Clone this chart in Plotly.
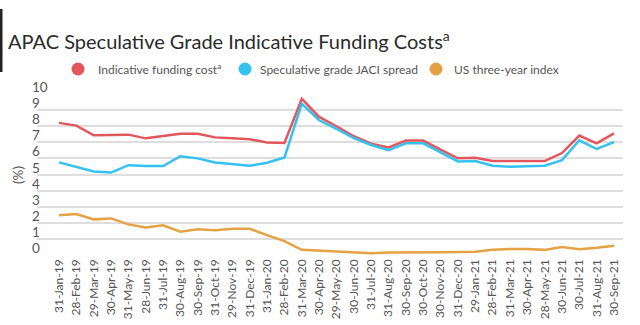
import plotly.graph_objects as go

# Month-end observation dates
dates = [
    "31-Jan-19", "28-Feb-19", "29-Mar-19", "30-Apr-19", "31-May-19", "28-Jun-19",
    "31-Jul-19", "30-Aug-19", "30-Sep-19", "31-Oct-19", "29-Nov-19", "31-Dec-19",
    "31-Jan-20", "28-Feb-20", "31-Mar-20", "30-Apr-20", "29-May-20", "30-Jun-20",
    "31-Jul-20", "31-Aug-20", "30-Sep-20", "30-Oct-20", "30-Nov-20", "31-Dec-20",
    "29-Jan-21", "28-Feb-21", "31-Mar-21", "30-Apr-21", "28-May-21", "30-Jun-21",
    "30-Jul-21", "31-Aug-21", "30-Sep-21",
]

# Series values (%)
funding_cost = [
    8.20, 8.03, 7.43, 7.43, 7.47, 7.24, 7.37, 7.53, 7.53, 7.30, 7.24, 7.18,
    6.99, 6.95, 9.69, 8.57, 7.99, 7.37, 6.91, 6.68, 7.10, 7.10, 6.54, 6.00,
    6.04, 5.83, 5.83, 5.83, 5.83, 6.33, 7.41, 6.93, 7.55,
]
jaci_spread = [
    5.75, 5.46, 5.19, 5.12, 5.58, 5.52, 5.52, 6.13, 6.00, 5.75, 5.64, 5.54,
    5.73, 6.06, 9.38, 8.36, 7.82, 7.26, 6.83, 6.51, 6.93, 6.93, 6.37, 5.81,
    5.83, 5.54, 5.48, 5.50, 5.54, 5.89, 7.12, 6.58, 7.01,
]
us_three_year = [
    2.47, 2.55, 2.22, 2.28, 1.91, 1.72, 1.85, 1.45, 1.60, 1.54, 1.64, 1.64,
    1.24, 0.87, 0.33, 0.27, 0.21, 0.17, 0.12, 0.17, 0.19, 0.19, 0.19, 0.20,
    0.21, 0.33, 0.39, 0.39, 0.33, 0.50, 0.37, 0.46, 0.58,
]

series_names = ["Indicative funding cost<sup>a</sup>", "Speculative grade JACI spread", "US three-year index"]
series_colors = ["#e3575c", "#33c2f0", "#e5a245"]
y_ticks = list(range(0, 11))

W, H = 640, 325
L, R, T, B = 37, 17, 93, 69
PW, PH = W - L - R, H - T - B


def px_x(px):
    return (px - L) / PW


def px_y(py):
    return (H - B - py) / PH


FONT = "Lato, 'Open Sans', sans-serif"

fig = go.Figure()
for name, vals, col in zip(series_names, [funding_cost, jaci_spread, us_three_year], series_colors):
    fig.add_trace(go.Scatter(
        x=list(range(len(dates))), y=vals, mode="lines", name=name,
        line=dict(color=col, width=2.5), showlegend=False,
    ))

annotations = []
shapes = []

# y tick labels sit above their gridlines, left aligned
for v in y_ticks:
    annotations.append(dict(
        x=px_x(30), xref="paper", xanchor="left", y=v, yref="y", yanchor="middle",
        yshift=7, text=str(v), showarrow=False, font=dict(family=FONT, size=13.5, color="#555"),
    ))

# y axis title
annotations.append(dict(
    x=px_x(18), xref="paper", xanchor="center", y=px_y(175), yref="paper", yanchor="middle",
    text="(%)", textangle=-90, showarrow=False, font=dict(family=FONT, size=13.5, color="#555"),
))

# legend: coloured dots and labels
legend_dots = [78, 245, 436]
legend_texts = [96, 258, 452]
leg_y = 69
for name, col, cx, tx in zip(series_names, series_colors, legend_dots, legend_texts):
    r = 6.5
    shapes.append(dict(
        type="circle", xref="paper", yref="paper",
        x0=px_x(cx - r), x1=px_x(cx + r), y0=px_y(leg_y + r), y1=px_y(leg_y - r),
        fillcolor=col, line=dict(width=0),
    ))
    annotations.append(dict(
        x=px_x(tx), xref="paper", xanchor="left", y=px_y(leg_y), yref="paper", yanchor="middle",
        text=name, showarrow=False, font=dict(family=FONT, size=12, color="#555"),
    ))

# title
annotations.append(dict(
    x=px_x(6), xref="paper", xanchor="left", y=px_y(40), yref="paper", yanchor="middle",
    text="APAC Speculative Grade Indicative Funding Costs<sup>a</sup>", showarrow=False,
    font=dict(family=FONT, size=20, color="#2b2b2b"),
))

# dark rule at the left edge beside the title
shapes.append(dict(
    type="rect", xref="paper", yref="paper",
    x0=px_x(0), x1=px_x(2.5), y0=px_y(72), y1=px_y(9),
    fillcolor="#222", line=dict(width=0),
))

fig.update_layout(
    width=W, height=H,
    margin=dict(l=L, r=R, t=T, b=B, autoexpand=False),
    paper_bgcolor="white", plot_bgcolor="white",
    showlegend=False,
    annotations=annotations, shapes=shapes,
    xaxis=dict(
        tickmode="array", tickvals=list(range(len(dates))), ticktext=dates,
        tickangle=-90, range=[-1.2685, 32.519], showgrid=False, zeroline=False,
        showline=False, ticks="", automargin=False,
        tickfont=dict(family=FONT, size=12, color="#555"),
    ),
    yaxis=dict(
        range=[-0.05, 10.05], tickvals=y_ticks, showticklabels=False, automargin=False,
        showgrid=True, gridcolor="#dedede", gridwidth=1.5, zeroline=False, showline=False,
    ),
)

fig.write_html("out.html")
